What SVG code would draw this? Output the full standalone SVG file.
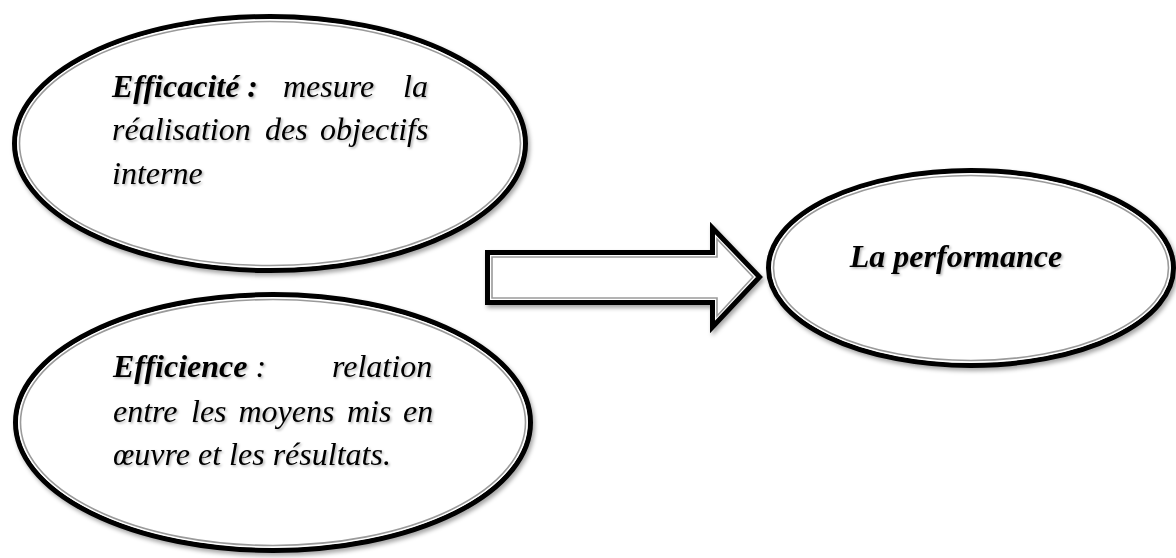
<svg xmlns="http://www.w3.org/2000/svg" width="1176" height="558" viewBox="0 0 1176 558">
  <style>
    .ring { fill: #ffffff; stroke: #000000; stroke-width: 5; }
    .bevel { fill: none; stroke: #9a9a9a; stroke-width: 1.6; }
    .bevel-hi { fill: none; stroke: #ffffff; stroke-width: 1.2; }
    .txt { font-family: "Liberation Serif", "Times New Roman", serif; font-size: 32px; font-style: italic; fill: #000000; }
    .b { font-weight: bold; }
  </style>
  <defs>
    <filter id="shade" x="-10%" y="-10%" width="125%" height="130%">
      <feDropShadow dx="2" dy="3" stdDeviation="2" flood-color="#000000" flood-opacity="0.35"/>
    </filter>
    <filter id="textShade" x="-5%" y="-20%" width="115%" height="150%">
      <feDropShadow dx="1.5" dy="1.5" stdDeviation="1" flood-color="#000000" flood-opacity="0.3"/>
    </filter>
  </defs>

  <rect width="1176" height="558" fill="#ffffff"/>

  <!-- connectors: block arrow toward the result -->
  <g id="connectors">
    <g filter="url(#shade)">
      <path class="ring" stroke-linejoin="miter" d="M487.5,252.5 H712.5 V228 L759.5,277 L712.5,327 V302.5 H487.5 Z"/>
    </g>
    <path class="bevel" stroke-linejoin="miter" d="M492,257 H717 V239 L753,277 L717,316 V298 H492 Z"/>
  </g>

  <!-- node: efficacité -->
  <g id="node-efficacite">
    <ellipse class="ring" cx="270" cy="143.5" rx="255.5" ry="127" filter="url(#shade)"/>
    <ellipse class="bevel-hi" cx="270" cy="143.5" rx="252" ry="123.5"/>
    <ellipse class="bevel" cx="270" cy="143.5" rx="250.5" ry="122"/>
    <g class="txt" filter="url(#textShade)">
      <text x="112" y="97" class="b">Efficacité :</text>
      <text x="283" y="97">mesure</text>
      <text x="403" y="97">la</text>
      <text x="112" y="140">réalisation</text>
      <text x="265" y="140">des</text>
      <text x="320" y="140">objectifs</text>
      <text x="112" y="184">interne</text>
    </g>
  </g>

  <!-- node: efficience -->
  <g id="node-efficience">
    <ellipse class="ring" cx="273" cy="422.5" rx="257.5" ry="128" filter="url(#shade)"/>
    <ellipse class="bevel-hi" cx="273" cy="422.5" rx="254" ry="124.5"/>
    <ellipse class="bevel" cx="273" cy="422.5" rx="252.5" ry="123"/>
    <g class="txt" filter="url(#textShade)">
      <text x="113" y="377"><tspan class="b">Efficience</tspan> :</text>
      <text x="332" y="377">relation</text>
      <text x="113" y="422">entre</text>
      <text x="191" y="422">les</text>
      <text x="238.5" y="422">moyens</text>
      <text x="347" y="422">mis</text>
      <text x="403" y="422">en</text>
      <text x="113" y="465">œuvre et les résultats.</text>
    </g>
  </g>

  <!-- node: performance -->
  <g id="node-performance">
    <ellipse class="ring" cx="971" cy="268" rx="202.5" ry="97.5" filter="url(#shade)"/>
    <ellipse class="bevel-hi" cx="971" cy="268" rx="199" ry="94"/>
    <ellipse class="bevel" cx="971" cy="268" rx="197.5" ry="92.5"/>
    <text class="txt b" x="956" y="267" text-anchor="middle" filter="url(#textShade)">La performance</text>
  </g>
</svg>
